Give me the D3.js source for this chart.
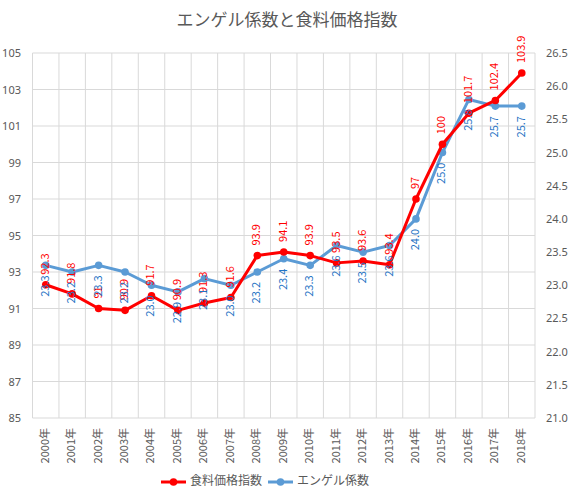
<!DOCTYPE html>
<html>
<head>
<meta charset="utf-8">
<script src="https://cdn.jsdelivr.net/npm/d3@7"></script>
<style>
  html, body { margin: 0; padding: 0; background: #fff; }
  svg { display: block; font-family: "Noto Sans CJK JP", "Noto Sans", sans-serif; }
</style>
</head>
<body>
<svg id="chart" width="576" height="497"></svg>
<script>
const years = ["2000年","2001年","2002年","2003年","2004年","2005年","2006年","2007年","2008年","2009年","2010年","2011年","2012年","2013年","2014年","2015年","2016年","2017年","2018年"];
const foodPrice = [92.3, 91.8, 91.0, 90.9, 91.7, 90.9, 91.3, 91.6, 93.9, 94.1, 93.9, 93.5, 93.6, 93.4, 97, 100, 101.7, 102.4, 103.9];
const engel = [23.3, 23.2, 23.3, 23.2, 23.0, 22.9, 23.1, 23.0, 23.2, 23.4, 23.3, 23.6, 23.5, 23.6, 24.0, 25.0, 25.8, 25.7, 25.7];
const leftTicks = [85, 87, 89, 91, 93, 95, 97, 99, 101, 103, 105];
const rightTicks = [21.0, 21.5, 22.0, 22.5, 23.0, 23.5, 24.0, 24.5, 25.0, 25.5, 26.0, 26.5];
const seriesNames = ["食料価格指数", "エンゲル係数"];
const title = "エンゲル係数と食料価格指数";

const svg = d3.select("#chart");
const pLeft = 32.5, pRight = 535, pTop = 53, pBottom = 418;
const RED = "#FF0000", BLUE = "#5B9BD5", BLUE_TXT = "#1F73C4", GRID = "#D9D9D9", TXT = "#595959";

const x = d3.scaleBand().domain(years).range([pLeft, pRight]);
const yL = d3.scaleLinear().domain([85, 105]).range([pBottom, pTop]);
const yR = d3.scaleLinear().domain([21, 26.5]).range([pBottom, pTop]);

// grid
const g = svg.append("g");
g.selectAll("line.h").data(leftTicks).join("line")
  .attr("x1", pLeft).attr("x2", pRight)
  .attr("y1", d => yL(d)).attr("y2", d => yL(d))
  .attr("stroke", GRID).attr("stroke-width", 1);
const bounds = years.map(d => x(d)).concat([pRight]);
g.selectAll("line.v").data(bounds).join("line")
  .attr("x1", d => d).attr("x2", d => d)
  .attr("y1", pTop).attr("y2", pBottom)
  .attr("stroke", GRID).attr("stroke-width", 1);

// title
svg.append("text").attr("x", 287).attr("y", 26).attr("text-anchor", "middle")
  .attr("font-size", 17).attr("fill", TXT).text(title);

// left axis
const axL = d3.axisLeft(yL).tickValues(leftTicks).tickSize(0).tickPadding(0).tickFormat(d3.format("d"));
svg.append("g").attr("transform", `translate(21,0)`).call(axL)
  .call(s => s.select(".domain").remove())
  .call(s => s.selectAll("text").attr("fill", TXT).attr("font-size", 11).attr("font-family", "'Noto Sans', sans-serif"));

// right axis
const axR = d3.axisRight(yR).tickValues(rightTicks).tickSize(0).tickPadding(0).tickFormat(d3.format(".1f"));
svg.append("g").attr("transform", `translate(546,0)`).call(axR)
  .call(s => s.select(".domain").remove())
  .call(s => s.selectAll("text").attr("fill", TXT).attr("font-size", 11).attr("font-family", "'Noto Sans', sans-serif"));

// x labels
svg.append("g").selectAll("text").data(years).join("text")
  .attr("transform", d => `translate(${x(d) + x.bandwidth()/2},428) rotate(-90)`)
  .attr("text-anchor", "end").attr("dominant-baseline", "middle")
  .attr("font-size", 11).attr("fill", TXT).text(d => d);

const cx = (d, i) => x(years[i]) + x.bandwidth()/2;

// blue series (secondary axis)
const lineR = d3.line().x((d, i) => cx(d, i)).y(d => yR(d));
svg.append("path").datum(engel).attr("d", lineR)
  .attr("fill", "none").attr("stroke", BLUE).attr("stroke-width", 3).attr("stroke-linejoin", "round");
svg.append("g").selectAll("circle").data(engel).join("circle")
  .attr("cx", cx).attr("cy", d => yR(d)).attr("r", 3.8).attr("fill", BLUE);

// red series
const lineL = d3.line().x((d, i) => cx(d, i)).y(d => yL(d));
svg.append("path").datum(foodPrice).attr("d", lineL)
  .attr("fill", "none").attr("stroke", RED).attr("stroke-width", 3).attr("stroke-linejoin", "round");
svg.append("g").selectAll("circle").data(foodPrice).join("circle")
  .attr("cx", cx).attr("cy", d => yL(d)).attr("r", 3.8).attr("fill", RED);

// labels
svg.append("g").selectAll("text").data(foodPrice).join("text")
  .attr("transform", (d, i) => `translate(${cx(d, i)},${yL(d) - 10}) rotate(-90)`)
  .attr("text-anchor", "start").attr("dominant-baseline", "middle")
  .attr("font-size", 11).attr("fill", RED).text(d => String(d));
svg.append("g").selectAll("text").data(engel).join("text")
  .attr("transform", (d, i) => `translate(${cx(d, i)},${yR(d) + 10}) rotate(-90)`)
  .attr("text-anchor", "end").attr("dominant-baseline", "middle")
  .attr("font-size", 11).attr("fill", BLUE_TXT).text(d => d.toFixed(1));

// legend
const leg = svg.append("g");
const items = [{name: seriesNames[0], color: RED, x: 161}, {name: seriesNames[1], color: BLUE, x: 268}];
items.forEach(it => {
  leg.append("line").attr("x1", it.x).attr("x2", it.x + 25).attr("y1", 482).attr("y2", 482)
    .attr("stroke", it.color).attr("stroke-width", 3);
  leg.append("circle").attr("cx", it.x + 12.5).attr("cy", 482).attr("r", 3.8).attr("fill", it.color);
  leg.append("text").attr("x", it.x + 29).attr("y", 482).attr("dominant-baseline", "middle")
    .attr("font-size", 12).attr("fill", TXT).text(it.name);
});
</script>
</body>
</html>
